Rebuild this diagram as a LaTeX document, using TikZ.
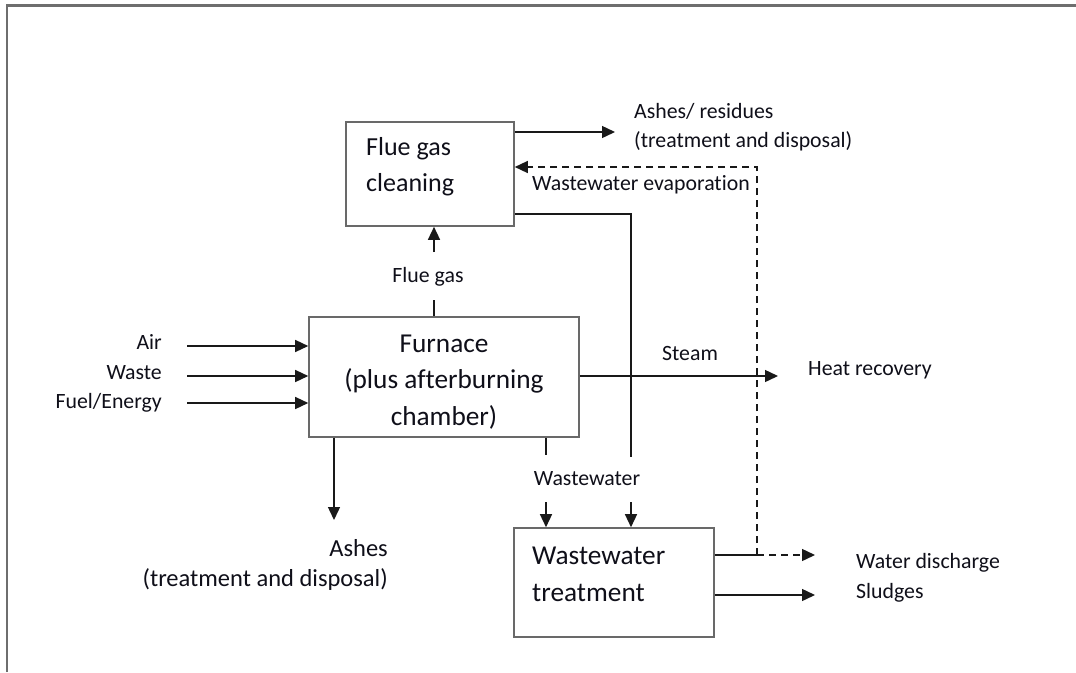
\documentclass[tikz,border=0pt]{standalone}
\usepackage{fontspec}
\setmainfont{Carlito}[Ligatures=NoCommon]
\usetikzlibrary{arrows.meta}
\definecolor{boxgray}{RGB}{105,105,105}
\definecolor{linec}{RGB}{25,25,25}
\definecolor{framec}{RGB}{110,110,110}
\definecolor{txt}{RGB}{15,15,25}
\tikzset{
  box/.style={draw=boxgray, line width=1.6pt, inner sep=0pt},
  lbl/.style={font=\fontsize{21.8}{26}\selectfont, inner sep=0pt, text=txt},
  lblb/.style={font=\fontsize{24.5}{29}\selectfont, inner sep=0pt, text=txt},
  big/.style={font=\fontsize{27.3}{32}\selectfont, inner sep=0pt, text=txt},
  bigs/.style={font=\fontsize{26}{31}\selectfont, inner sep=0pt, text=txt},
  plain/.style={draw=linec, line width=1.4pt},
  flow/.style={plain, -{Triangle[length=13pt,width=12pt]}},
  dflow/.style={draw=linec, line width=1.4pt, dash pattern=on 7pt off 5pt, -{Triangle[length=13pt,width=12pt]}},
  dline/.style={draw=linec, line width=1.4pt, dash pattern=on 7pt off 5pt}
}
\begin{document}
\begin{tikzpicture}[x=1pt,y=-1pt]
\useasboundingbox (0,0) rectangle (1076,672);
\fill[white] (0,0) rectangle (1076,672);
% frame
\draw[framec, line width=2.2pt] (7,672) -- (7,5.5) -- (1076,5.5);

% boxes
\node[box, minimum width=168pt, minimum height=104pt] (fgc) at (430,174) {};
\node[box, minimum width=270pt, minimum height=120pt] (fur) at (444,377) {};
\node[box, minimum width=200pt, minimum height=109pt] (wwt) at (614,582.5) {};

% box texts
\node[bigs, anchor=west] (fgct1) at (366,149) {Flue gas};
\node[bigs, anchor=west] (fgct2) at (366,185) {cleaning};
\node[big] (furt1) at (444,344) {Furnace};
\node[big] (furt2) at (444,381) {(plus afterburning};
\node[big] (furt3) at (444,417) {chamber)};
\node[big, anchor=west] (wwtt1) at (532,556) {Wastewater};
\node[big, anchor=west] (wwtt2) at (532,593) {treatment};

% labels
\node[lbl, anchor=west] (ash1) at (634,111) {Ashes/ residues};
\node[lbl, anchor=west] (ash2) at (634,141) {(treatment and disposal)};
\node[lbl, anchor=west] (wwe) at (532,185) {Wastewater evaporation};
\node[lbl] (fgl) at (428,277) {Flue gas};
\node[lbl, anchor=east] (air) at (162,342) {Air};
\node[lbl, anchor=east] (waste) at (162,373) {Waste};
\node[lbl, anchor=east] (fuel) at (162,403) {Fuel/Energy};
\node[lbl] (steam) at (690,354) {Steam};
\node[lbl, anchor=west] (heat) at (808,370) {Heat recovery};
\node[lblb, anchor=east] (ashes) at (388,548) {Ashes};
\node[lblb, anchor=east] (ashes2) at (388,580) {(treatment and disposal)};
\node[lbl] (wwl) at (587,479) {Wastewater};
\node[lbl, anchor=west] (wd) at (856,563) {Water discharge};
\node[lbl, anchor=west] (sl) at (856,593) {Sludges};

% coordinates
\coordinate (ashtip) at (615,132);
\coordinate (dtop) at (757,167);
\coordinate (dcross) at (757,555);
\coordinate (rtop) at (631,214);
\coordinate (rbot) at (631,457);
\coordinate (rarr) at (631,502);
\coordinate (lbot) at (546,455);
\coordinate (larr) at (546,502);
\coordinate (fgtop) at (434,300);
\coordinate (fgarr) at (434,252);
\coordinate (ina) at (187,346);
\coordinate (inw) at (187,376);
\coordinate (inf) at (187,403);
\coordinate (steamtip) at (778,376);
\coordinate (ashdown) at (334,520);
\coordinate (wdtip) at (815,555);
\coordinate (sltip) at (815,595);

% connectors
\draw[flow] (fgc.east |- ashtip) -- (ashtip);
\draw[dflow] (dcross) -- (dtop) -- (fgc.east |- dtop);
\draw[plain] (fgc.east |- rtop) -- (rtop) -- (rbot);
\draw[flow] (rarr) -- (wwt.north -| rarr);
\draw[plain] (fur.south -| lbot) -- (lbot);
\draw[flow] (larr) -- (wwt.north -| larr);
\draw[plain] (fur.north -| fgtop) -- (fgtop);
\draw[flow] (fgarr) -- (fgc.south -| fgarr);
\draw[flow] (ina) -- (fur.west |- ina);
\draw[flow] (inw) -- (fur.west |- inw);
\draw[flow] (inf) -- (fur.west |- inf);
\draw[flow] (fur.east |- steamtip) -- (steamtip);
\draw[flow] (fur.south -| ashdown) -- (ashdown);
\draw[plain] (wwt.east |- dcross) -- (dcross);
\draw[dflow] (dcross) -- (wdtip);
\draw[flow] (wwt.east |- sltip) -- (sltip);
\end{tikzpicture}
\end{document}
